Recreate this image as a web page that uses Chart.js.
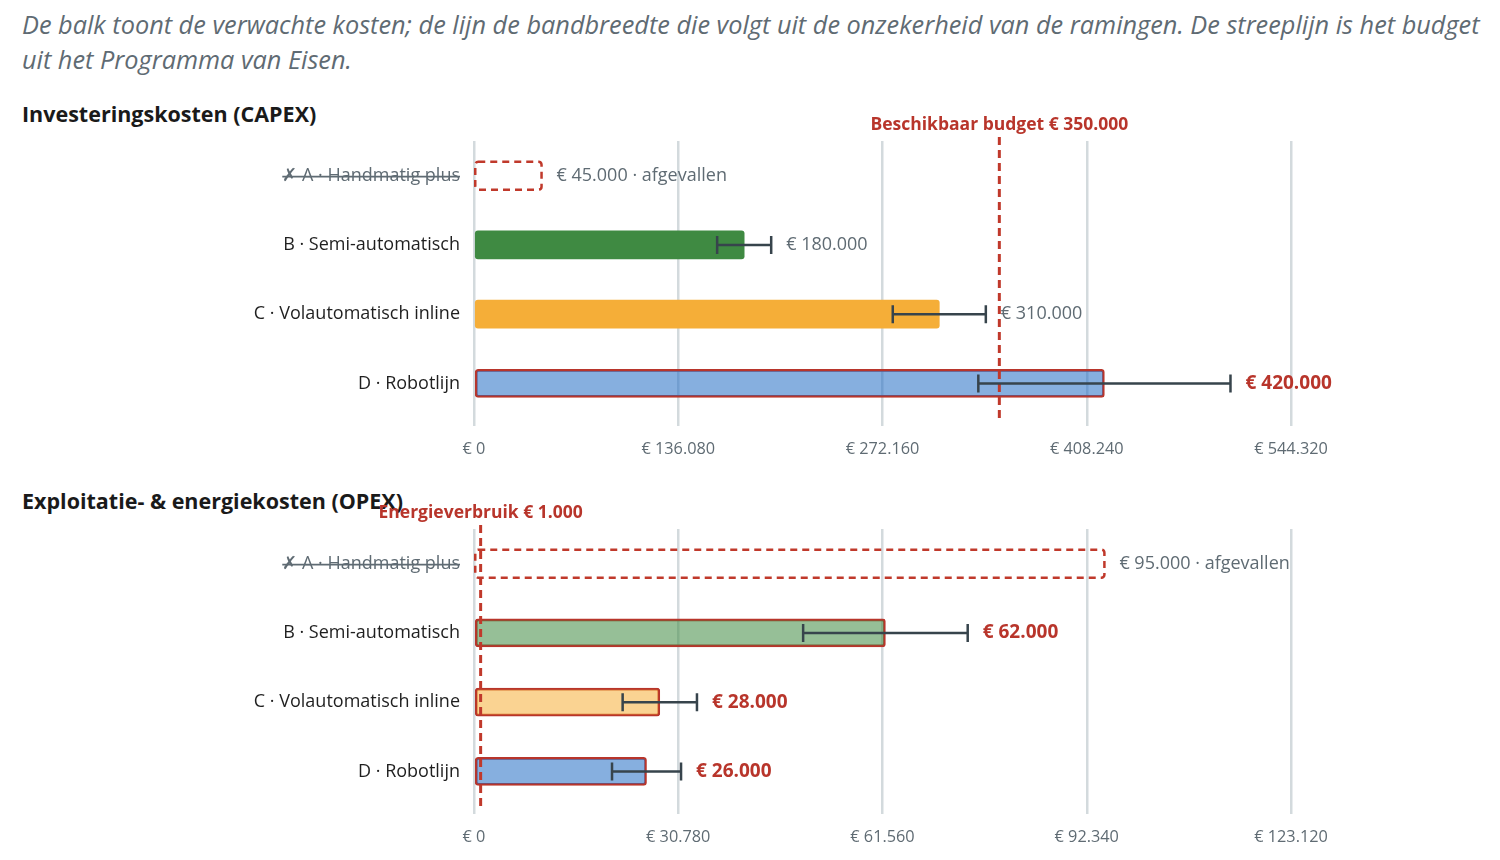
<!DOCTYPE html>
<html>
<head>
<meta charset="utf-8">
<script src="https://cdn.jsdelivr.net/npm/chart.js@4.4.1/dist/chart.umd.min.js"></script>
<style>
  body { margin: 0; background: #fff; font-family: "Open Sans", sans-serif; }
  .intro { position: absolute; left: 22px; top: 7px; width: 1480px; white-space: nowrap; font-style: italic; font-size: 25.3px; line-height: 35px; color: #5f6b73; }
  h2 { position: absolute; left: 22px; margin: 0; font-size: 21.5px; font-weight: 700; color: #1a1a1a; }
  .wrap { position: absolute; left: 0; width: 1500px; height: 380px; }
</style>
</head>
<body>
<div class="intro">De balk toont de verwachte kosten; de lijn de bandbreedte die volgt uit de onzekerheid van de ramingen. De streeplijn is het budget<br>uit het Programma van Eisen.</div>
<h2 style="top:99px">Investeringskosten (CAPEX)</h2>
<h2 style="top:486px">Exploitatie- &amp; energiekosten (OPEX)</h2>
<div class="wrap" style="top:101px"><canvas id="capex"></canvas></div>
<div class="wrap" style="top:489px"><canvas id="opex"></canvas></div>
<script>
// options (y-axis categories)
const options = ['✗ A · Handmatig plus', 'B · Semi-automatisch', 'C · Volautomatisch inline', 'D · Robotlijn'];
const dropped = [true, false, false, false];

// CAPEX: expected cost and uncertainty band
const capexValues = [45000, 180000, 310000, 420000];
const capexLow = [36000, 162000, 279000, 336000];
const capexHigh = [54000, 198000, 341000, 504000];
const capexBudget = 350000;

// OPEX: expected cost and uncertainty band
const opexValues = [95000, 62000, 28000, 26000];
const opexLow = [76000, 49600, 22400, 20800];
const opexHigh = [114000, 74400, 33600, 31200];
const opexBudget = 1000;

const solidColors = ['#3f8a42', '#3f8a42', '#f5ae38', '#236dc5'];
const RED = '#b8352b';
const GREY = '#5f6b73';
const FONT = '"Open Sans", sans-serif';

function eur(v) {
  return '€ ' + Math.round(v).toString().replace(/\B(?=(\d{3})+(?!\d))/g, '.');
}

function fade(hex, a) {
  const n = parseInt(hex.slice(1), 16);
  return `rgba(${n >> 16},${(n >> 8) & 255},${n & 255},${a})`;
}

function extras(low, high, budget, budgetLabel) {
  return {
    id: 'extras',
    afterDatasetsDraw(chart) {
      const ctx = chart.ctx;
      const x = chart.scales.x;
      const area = chart.chartArea;
      const bars = chart.getDatasetMeta(0).data;
      const values = chart.data.datasets[0].data;

      // dashed outline for dropped options
      bars.forEach((bar, i) => {
        if (!dropped[i]) return;
        ctx.save();
        ctx.strokeStyle = '#c0392b';
        ctx.lineWidth = 2.5;
        ctx.setLineDash([7, 5]);
        ctx.beginPath();
        ctx.roundRect(bar.base, bar.y - bar.height / 2, bar.x - bar.base, bar.height, 3);
        ctx.stroke();
        ctx.restore();
      });

      // budget line
      const bx = x.getPixelForValue(budget);
      ctx.save();
      ctx.strokeStyle = '#c0392b';
      ctx.lineWidth = 3;
      ctx.setLineDash([8, 5]);
      ctx.beginPath();
      ctx.moveTo(bx, area.top - 4);
      ctx.lineTo(bx, area.bottom + 2);
      ctx.stroke();
      ctx.setLineDash([]);
      ctx.fillStyle = RED;
      ctx.font = 'bold 17.5px ' + FONT;
      ctx.textAlign = 'center';
      ctx.textBaseline = 'middle';
      ctx.fillText(budgetLabel, bx, area.top - 16);
      ctx.restore();

      // error bars and value labels
      bars.forEach((bar, i) => {
        const y = bar.y;
        let end = bar.x;
        if (!dropped[i]) {
          const x1 = x.getPixelForValue(low[i]);
          const x2 = x.getPixelForValue(high[i]);
          ctx.save();
          ctx.strokeStyle = '#37444c';
          ctx.lineWidth = 2.5;
          ctx.beginPath();
          ctx.moveTo(x1, y); ctx.lineTo(x2, y);
          ctx.moveTo(x1, y - 9); ctx.lineTo(x1, y + 9);
          ctx.moveTo(x2, y - 9); ctx.lineTo(x2, y + 9);
          ctx.stroke();
          ctx.restore();
          end = Math.max(end, x2);
        }
        const over = !dropped[i] && values[i] > budget;
        ctx.save();
        ctx.font = over ? 'bold 19px ' + FONT : '18px ' + FONT;
        ctx.fillStyle = over ? RED : GREY;
        ctx.textBaseline = 'middle';
        ctx.fillText(eur(values[i]) + (dropped[i] ? ' · afgevallen' : ''), end + 15, y);
        ctx.restore();
      });
    },
    afterDraw(chart) {
      // strike through labels of dropped options
      const ctx = chart.ctx;
      const ys = chart.scales.y;
      ctx.save();
      ctx.font = '18px ' + FONT;
      ctx.strokeStyle = GREY;
      ctx.lineWidth = 1.8;
      options.forEach((lab, i) => {
        if (!dropped[i]) return;
        const y = ys.getPixelForTick(i) + 1;
        const r = ys.right - 14;
        const w = ctx.measureText(lab).width;
        ctx.beginPath();
        ctx.moveTo(r - w, y); ctx.lineTo(r, y);
        ctx.stroke();
      });
      ctx.restore();
    }
  };
}

function makeChart(id, values, low, high, budget, budgetLabel) {
  const max = Math.round(Math.max(...high) * 1.08);
  const over = values.map((v, i) => !dropped[i] && v > budget);
  return new Chart(document.getElementById(id), {
    type: 'bar',
    data: {
      labels: options,
      datasets: [{
        data: values,
        backgroundColor: values.map((v, i) => dropped[i] ? 'rgba(0,0,0,0)' : over[i] ? fade(solidColors[i], 0.55) : solidColors[i]),
        borderColor: values.map((v, i) => over[i] ? RED : 'rgba(0,0,0,0)'),
        borderWidth: values.map((v, i) => over[i] ? 2 : 0),
        borderRadius: 3,
        borderSkipped: false,
        barThickness: 28
      }]
    },
    options: {
      indexAxis: 'y',
      responsive: true,
      maintainAspectRatio: false,
      animation: false,
      layout: { padding: { top: 40, right: 209, bottom: 8, left: 0 } },
      plugins: { legend: { display: false }, tooltip: { enabled: false } },
      scales: {
        x: {
          min: 0,
          max: max,
          afterBuildTicks: s => { s.ticks = [0, 1, 2, 3, 4].map(k => ({ value: Math.round(max * k / 4) })); },
          afterFit: s => { s.height = 55; },
          grid: { color: '#d3dadd', lineWidth: 2.5, drawTicks: true, tickLength: 8 },
          border: { display: false },
          ticks: { callback: v => eur(v), color: GREY, font: { family: FONT, size: 16.3 }, padding: 14, maxRotation: 0 }
        },
        y: {
          afterFit: s => { s.width = 474; },
          grid: { display: false, drawTicks: false },
          border: { display: false },
          ticks: {
            color: c => dropped[c.index] ? GREY : '#1f1f1f',
            font: { family: FONT, size: 18 },
            padding: 14
          }
        }
      }
    },
    plugins: [extras(low, high, budget, budgetLabel)]
  });
}

makeChart('capex', capexValues, capexLow, capexHigh, capexBudget, 'Beschikbaar budget ' + eur(capexBudget));
makeChart('opex', opexValues, opexLow, opexHigh, opexBudget, 'Energieverbruik ' + eur(opexBudget));
</script>
</body>
</html>
